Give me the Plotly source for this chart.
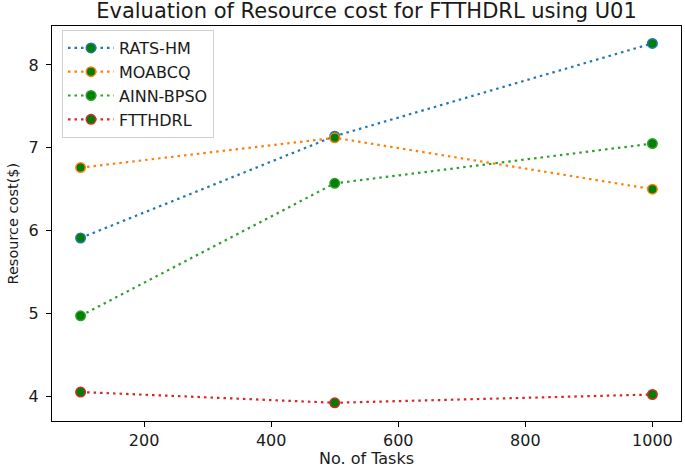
import plotly.graph_objects as go

tasks = [100, 500, 1000]
series_names = ["RATS-HM", "MOABCQ", "AINN-BPSO", "FTTHDRL"]
rats_hm = [5.91, 7.14, 8.26]
moabcq = [6.76, 7.12, 6.50]
ainn_bpso = [4.97, 6.57, 7.05]
ftthdrl = [4.05, 3.92, 4.02]
line_colors = ["#1f77b4", "#ff7f0e", "#2ca02c", "#d62728"]
x_ticks = [200, 400, 600, 800, 1000]
y_ticks = [4, 5, 6, 7, 8]

values = [rats_hm, moabcq, ainn_bpso, ftthdrl]
font = "DejaVu Sans"
txt = "#1a1a1a"

W, H = 685, 467
L, R, T, B = 52, 4, 26, 46

fig = go.Figure()
for name, vals, col in zip(series_names, values, line_colors):
    fig.add_trace(go.Scatter(
        x=tasks, y=vals, name=name, mode="lines+markers",
        line=dict(color=col, width=2.2, dash="2.5px,4px"),
        marker=dict(color="#008000", size=9.5, line=dict(color=col, width=1.5)),
    ))

fig.update_layout(
    width=W, height=H,
    margin=dict(l=L, r=R, t=T, b=B, autoexpand=False),
    paper_bgcolor="white", plot_bgcolor="white",
    font=dict(family=font, size=16, color=txt),
    title=dict(text="Evaluation of Resource cost for FTTHDRL using U01",
               x=(L + (W - R)) / 2 / W, xanchor="center",
               y=1 - 11 / H, yanchor="middle", yref="container",
               font=dict(family=font, size=21, color=txt)),
    showlegend=True,
    legend=dict(x=10 / (W - L - R), y=1 - 4 / (H - T - B), xanchor="left", yanchor="top",
                bgcolor="rgba(255,255,255,0.8)", bordercolor="#d0d0d0", borderwidth=1,
                font=dict(family=font, size=16, color=txt),
                itemwidth=46, tracegroupgap=0),
    annotations=[
        dict(text="No. of Tasks", xref="paper", yref="paper", x=0.5, y=0,
             yshift=-(458 - (H - B)), xanchor="center", yanchor="middle",
             showarrow=False, font=dict(family=font, size=16, color=txt)),
        dict(text="Resource cost($)", xref="paper", yref="paper", x=0, y=0.5,
             xshift=-(L - 12), xanchor="center", yanchor="middle", textangle=-90,
             showarrow=False, font=dict(family=font, size=14.5, color=txt)),
    ],
)
fig.update_xaxes(range=[55, 1045], tickvals=x_ticks, ticks="outside", ticklen=5,
                 tickcolor="black", showline=True, linecolor="black", linewidth=1.2,
                 mirror=True, showgrid=False, zeroline=False, automargin=False,
                 tickfont=dict(size=16, color=txt))
fig.update_yaxes(range=[3.70, 8.47], tickvals=y_ticks, ticks="outside", ticklen=5,
                 tickcolor="black", showline=True, linecolor="black", linewidth=1.2,
                 mirror=True, showgrid=False, zeroline=False, automargin=False,
                 ticklabelstandoff=4,
                 tickfont=dict(size=16, color=txt))

fig.write_html("out.html", config={"displayModeBar": False},
               post_script="document.body.style.margin='0';document.body.style.overflow='hidden';")
